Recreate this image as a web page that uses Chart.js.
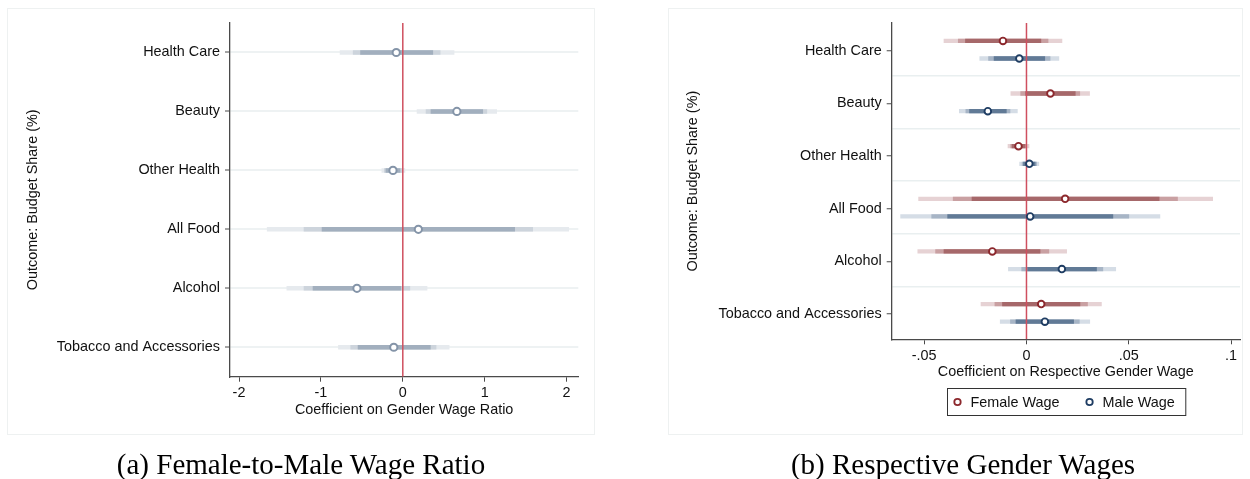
<!DOCTYPE html>
<html>
<head>
<meta charset="utf-8">
<script src="https://cdn.jsdelivr.net/npm/chart.js@4.4.1/dist/chart.umd.min.js"></script>
<style>
  html, body { margin: 0; padding: 0; background: #fff; }
  body { width: 1250px; height: 479px; position: relative; overflow: hidden; }
  .frame { position: absolute; border: 1px solid #eef1f1; box-sizing: border-box; }
  canvas { position: absolute; top: 0; }
  .caption {
    position: absolute; top: 448px; white-space: nowrap; color: #000;
    font-family: 'Liberation Serif', 'Times New Roman', serif; font-size: 29px;
    line-height: normal; transform: translateX(-50%);
  }
</style>
</head>
<body>
<div class="frame" style="left:7px;top:8px;width:588px;height:427px"></div>
<div class="frame" style="left:668px;top:8px;width:575px;height:427px"></div>
<canvas id="ratioChart" width="625" height="479" style="left:0"></canvas>
<canvas id="genderChart" width="625" height="479" style="left:625px"></canvas>
<div class="caption" style="left:301px">(a) Female-to-Male Wage Ratio</div>
<div class="caption" style="left:963px">(b) Respective Gender Wages</div>
<script>
// Outcomes (budget shares), listed top to bottom
const categories = ['Health Care', 'Beauty', 'Other Health', 'All Food', 'Alcohol', 'Tobacco and Accessories'];

// (a) coefficient on the female-to-male wage ratio, with 90 / 95 / 99% intervals
const ratioCoef = [-0.08, 0.66, -0.12, 0.19, -0.56, -0.11];
const ratioLo90 = [-0.52, 0.34, -0.21, -0.99, -1.10, -0.55];
const ratioHi90 = [0.37, 0.98, -0.03, 1.37, -0.02, 0.34];
const ratioLo95 = [-0.61, 0.28, -0.23, -1.21, -1.21, -0.64];
const ratioHi95 = [0.46, 1.03, -0.01, 1.59, 0.09, 0.41];
const ratioLo99 = [-0.77, 0.17, -0.26, -1.66, -1.42, -0.79];
const ratioHi99 = [0.63, 1.15, 0.03, 2.03, 0.30, 0.57];
const ratioTicks = [-2, -1, 0, 1, 2];
const ratioTickLabels = ['-2', '-1', '0', '1', '2'];

// (b) coefficients on the female and male wages, with 90 / 95 / 99% intervals
const seriesNames = ['Female Wage', 'Male Wage'];
const femaleCoef = [-0.0115, 0.0117, -0.0039, 0.0189, -0.0167, 0.0072];
const femaleLo90 = [-0.0300, -0.0006, -0.0072, -0.0268, -0.0405, -0.0119];
const femaleHi90 = [0.0072, 0.0240, -0.0006, 0.0650, 0.0068, 0.0263];
const femaleLo95 = [-0.0335, -0.0030, -0.0079, -0.0360, -0.0446, -0.0156];
const femaleHi95 = [0.0107, 0.0262, 0.0001, 0.0740, 0.0111, 0.0300];
const femaleLo99 = [-0.0405, -0.0078, -0.0092, -0.0529, -0.0533, -0.0224];
const femaleHi99 = [0.0175, 0.0310, 0.0014, 0.0912, 0.0198, 0.0368];
const maleCoef = [-0.0035, -0.0189, 0.0014, 0.0018, 0.0173, 0.0090];
const maleLo90 = [-0.0160, -0.0280, -0.0016, -0.0387, 0.0004, -0.0053];
const maleHi90 = [0.0091, -0.0097, 0.0044, 0.0424, 0.0344, 0.0232];
const maleLo95 = [-0.0187, -0.0298, -0.0023, -0.0465, -0.0025, -0.0080];
const maleHi95 = [0.0117, -0.0079, 0.0051, 0.0502, 0.0375, 0.0260];
const maleLo99 = [-0.0230, -0.0330, -0.0035, -0.0617, -0.0090, -0.0130];
const maleHi99 = [0.0160, -0.0043, 0.0062, 0.0654, 0.0438, 0.0311];
const wageTicks = [-0.05, 0, 0.05, 0.1];
const wageTickLabels = ['-.05', '0', '.05', '.1'];

Chart.defaults.font.family = "'Liberation Sans', Arial, Helvetica, sans-serif";
Chart.defaults.font.size = 14.4;
Chart.defaults.color = '#111';

const AXIS = '#4a4a4a';
const ZERO_LINE = '#cf4f5f';

// one horizontal segment per outcome for an interval level
function intervalSets(lo, hi, offset, color, width, order) {
  return lo.map((l, i) => ({
    data: [{ x: l, y: i + offset }, { x: hi[i], y: i + offset }],
    showLine: true, borderColor: color, borderWidth: width, borderCapStyle: 'butt',
    pointRadius: 0, pointHoverRadius: 0, fill: false, order: order
  }));
}

function markerSet(coef, offset, color, radius, width, label) {
  return {
    label: label,
    data: coef.map((c, i) => ({ x: c, y: i + offset })),
    pointStyle: 'circle', pointRadius: radius, pointBorderWidth: width,
    pointBackgroundColor: '#ffffff', pointBorderColor: color,
    backgroundColor: '#ffffff', borderColor: color, order: 0
  };
}

function zeroLine(yMin, yMax) {
  return {
    data: [{ x: 0, y: yMin }, { x: 0, y: yMax }],
    showLine: true, borderColor: ZERO_LINE, borderWidth: 1.5,
    pointRadius: 0, fill: false, order: 1
  };
}

// boxed legend centred under the plot area of panel (b)
const boxedLegend = {
  id: 'boxedLegend',
  afterDraw(chart) {
    const ctx = chart.ctx;
    const ca = chart.chartArea;
    const items = chart.options.plugins.boxedLegend.items;
    ctx.save();
    ctx.font = "14.4px 'Liberation Sans', Arial, sans-serif";
    const widths = items.map(it => ctx.measureText(it.label).width);
    const pad = 10, gapText = 13, gapItem = 30, padRight = 11;
    let total = pad;
    widths.forEach((w, i) => { total += gapText + w + (i < widths.length - 1 ? gapItem : padRight); });
    const left = Math.round((ca.left + ca.right) / 2 - total / 2) + 0.5;
    const top = Math.round(ca.bottom + 49) + 0.5;
    const h = 27;
    ctx.strokeStyle = '#333';
    ctx.lineWidth = 1;
    ctx.strokeRect(left, top, total, h);
    let x = left + pad;
    const cy = top + h / 2;
    items.forEach((it, i) => {
      ctx.beginPath();
      ctx.arc(x, cy, 3.2, 0, Math.PI * 2);
      ctx.fillStyle = '#fff';
      ctx.fill();
      ctx.lineWidth = 1.8;
      ctx.strokeStyle = it.color;
      ctx.stroke();
      ctx.fillStyle = '#111';
      ctx.textBaseline = 'middle';
      ctx.textAlign = 'left';
      ctx.fillText(it.label, x + gapText, cy + 1);
      x += gapText + widths[i] + gapItem;
    });
    ctx.restore();
  }
};

function buildPanel(canvasId, cfg) {
  return new Chart(document.getElementById(canvasId), {
    type: 'scatter',
    data: { datasets: cfg.datasets },
    plugins: cfg.plugins || [],
    options: {
      responsive: false,
      animation: false,
      devicePixelRatio: 1,
      events: [],
      layout: { padding: { left: 0, right: cfg.padRight, top: 23, bottom: 0 } },
      plugins: {
        legend: { display: false },
        tooltip: { enabled: false },
        boxedLegend: { items: cfg.legendItems || [] }
      },
      scales: {
        x: {
          type: 'linear', min: cfg.xMin, max: cfg.xMax,
          afterBuildTicks: s => { s.ticks = cfg.xTicks.map(v => ({ value: v })); },
          afterFit: s => { s.height = cfg.xAxisHeight; },
          ticks: {
            autoSkip: false, padding: 3, color: '#111',
            callback: v => cfg.xTickLabels[cfg.xTicks.indexOf(v)]
          },
          grid: { drawOnChartArea: false, drawTicks: true, tickLength: 5, tickColor: AXIS, tickWidth: 1 },
          border: { color: AXIS, width: 1.3 },
          title: { display: true, text: cfg.xTitle, color: '#111', padding: { top: 0, bottom: cfg.xTitlePad } }
        },
        y: {
          type: 'linear', min: cfg.yMin, max: cfg.yMax, reverse: true,
          afterBuildTicks: s => { s.ticks = cfg.yTicks.map(v => ({ value: v })); },
          afterFit: s => { s.width = cfg.yAxisWidth; },
          ticks: {
            autoSkip: false, padding: 5, color: '#111',
            callback: v => (Number.isInteger(v) ? categories[v] : '')
          },
          grid: {
            drawTicks: true, tickLength: 5, tickWidth: 1,
            color: ctx => cfg.gridColor(ctx.tick.value),
            tickColor: ctx => (Number.isInteger(ctx.tick.value) ? AXIS : 'rgba(0,0,0,0)'),
            lineWidth: cfg.gridWidth
          },
          border: { color: AXIS, width: 1.3 },
          title: { display: true, text: 'Outcome: Budget Share (%)', color: '#111', padding: { top: cfg.yTitlePad, bottom: 0 } }
        }
      }
    }
  });
}

// Panel (a): wage ratio
const ratioColors = { dark: '#a2afbe', mid: '#cdd4dc', light: '#e6eaee', marker: '#8494a8' };
buildPanel('ratioChart', {
  datasets: [
    markerSet(ratioCoef, 0, ratioColors.marker, 3.6, 2, 'Wage ratio'),
    zeroLine(-0.5, 5.5),
    ...intervalSets(ratioLo90, ratioHi90, 0, ratioColors.dark, 4.5, 2),
    ...intervalSets(ratioLo95, ratioHi95, 0, ratioColors.mid, 4.5, 3),
    ...intervalSets(ratioLo99, ratioHi99, 0, ratioColors.light, 4.5, 4)
  ],
  padRight: 625 - 578.3,
  xMin: -2.11, xMax: 2.143,
  xTicks: ratioTicks, xTickLabels: ratioTickLabels,
  xAxisHeight: 479 - 376.7, xTitle: 'Coefficient on Gender Wage Ratio', xTitlePad: 60.4,
  yAxisWidth: 230, yTitlePad: 24.4,
  yMin: -0.5, yMax: 5.5,
  yTicks: [0, 1, 2, 3, 4, 5],
  gridColor: () => '#eef2f3', gridWidth: 2
});

// Panel (b): female and male wages; separators sit between outcome groups
const femaleColors = { dark: '#a6686a', mid: '#c9a0a2', light: '#e6d2d4', marker: '#8c282d' };
const maleColors = { dark: '#617a96', mid: '#a7b5c6', light: '#d5dde6', marker: '#1f3d63' };
const fOff = -0.19, mOff = 0.145, sepOff = 0.475;
buildPanel('genderChart', {
  datasets: [
    markerSet(femaleCoef, fOff, femaleColors.marker, 3.3, 1.9, seriesNames[0]),
    markerSet(maleCoef, mOff, maleColors.marker, 3.3, 1.9, seriesNames[1]),
    zeroLine(-0.53, 5.48),
    ...intervalSets(femaleLo90, femaleHi90, fOff, femaleColors.dark, 4.3, 2),
    ...intervalSets(maleLo90, maleHi90, mOff, maleColors.dark, 4.3, 2),
    ...intervalSets(femaleLo95, femaleHi95, fOff, femaleColors.mid, 4.3, 3),
    ...intervalSets(maleLo95, maleHi95, mOff, maleColors.mid, 4.3, 3),
    ...intervalSets(femaleLo99, femaleHi99, fOff, femaleColors.light, 4.3, 4),
    ...intervalSets(maleLo99, maleHi99, mOff, maleColors.light, 4.3, 4)
  ],
  plugins: [boxedLegend],
  legendItems: [
    { label: seriesNames[0], color: femaleColors.marker },
    { label: seriesNames[1], color: maleColors.marker }
  ],
  padRight: 10,
  xMin: -0.0659, xMax: 0.1044,
  xTicks: wageTicks, xTickLabels: wageTickLabels,
  xAxisHeight: 479 - 339.3, xTitle: 'Coefficient on Respective Gender Wage', xTitlePad: 98.7,
  yAxisWidth: 266.7, yTitlePad: 59.4,
  yMin: -0.53, yMax: 5.48,
  yTicks: [0, 1, 2, 3, 4, 5].flatMap(v => (v < 5 ? [v, v + sepOff] : [v])),
  gridColor: v => (Number.isInteger(v) ? 'rgba(0,0,0,0)' : '#e9eff0'), gridWidth: 1.5
});
</script>
</body>
</html>
